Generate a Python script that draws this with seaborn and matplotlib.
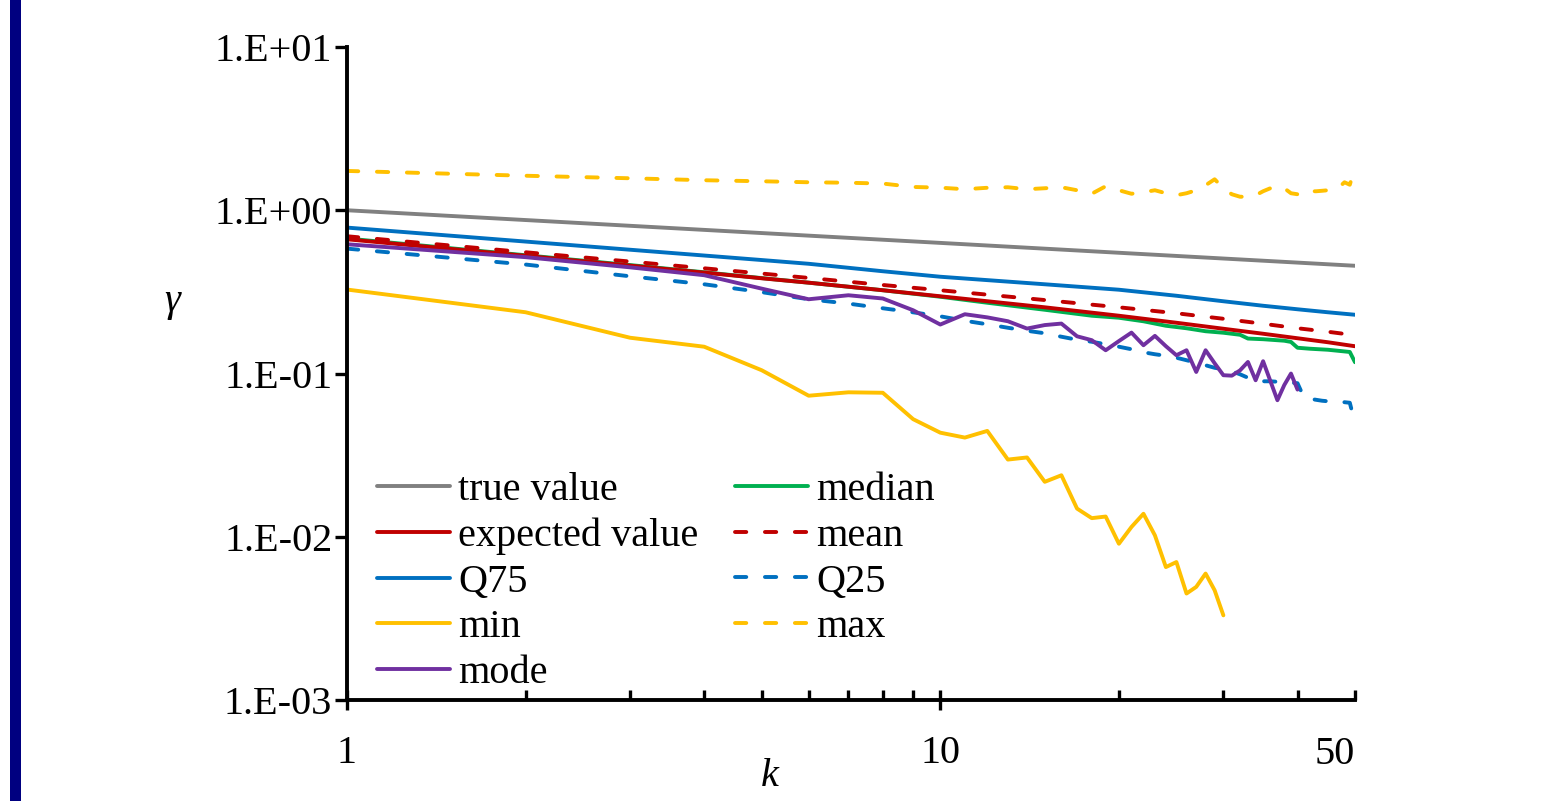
import matplotlib
matplotlib.use("Agg")
import matplotlib.pyplot as plt
import seaborn as sns
import numpy as np
from matplotlib.patches import Rectangle
from matplotlib.ticker import FixedLocator, FuncFormatter, NullLocator

# ---- data -------------------------------------------------------------
k_true = [1, 2, 5, 10, 20, 50]
true_value = [1.0, 0.871, 0.725, 0.631, 0.549, 0.457]

k_smooth = [1, 2, 3, 4, 5, 6, 8, 10, 15, 20, 25, 30, 35, 40, 45, 50]
expected_value = [0.664, 0.526, 0.458, 0.415, 0.383, 0.360, 0.3236, 0.2972,
                  0.2544, 0.2259, 0.2046, 0.1880, 0.1752, 0.1644, 0.1554, 0.1469]
mean_value = [0.693, 0.553, 0.485, 0.441, 0.4095, 0.385, 0.3485, 0.3236,
              0.2818, 0.2544, 0.2339, 0.2164, 0.2017, 0.1893, 0.1802, 0.1715]
q75 = [0.783, 0.643, 0.573, 0.528, 0.4955, 0.470, 0.423, 0.3915,
       0.352, 0.326, 0.2994, 0.277, 0.260, 0.2474, 0.2372, 0.229]

k_median = [1, 2, 3, 4, 5, 6, 8, 10, 12, 15, 18, 20, 22, 24, 26, 28, 30, 32,
            33, 35, 38, 39, 40, 42, 45, 49, 50]
median = [0.671, 0.530, 0.4615, 0.417, 0.384, 0.360, 0.3236, 0.2952, 0.2713,
          0.2457, 0.2259, 0.2196, 0.2089, 0.1961, 0.1893, 0.1815, 0.1777,
          0.1727, 0.1637, 0.1622, 0.1588, 0.1561, 0.1438, 0.1418, 0.1398,
          0.1355, 0.1172]

k_all = list(range(1, 51))
q25 = [0.582, 0.465, 0.394, 0.352, 0.315, 0.285, 0.268, 0.251, 0.237, 0.224,
       0.2104, 0.2002, 0.1906, 0.1827, 0.1764, 0.168, 0.161, 0.1565, 0.1511, 0.1459,
       0.1408, 0.1349, 0.1312, 0.1284, 0.1249, 0.1206, 0.1164, 0.1123, 0.1084, 0.1062,
       0.1032, 0.0989, 0.0942, 0.0903, 0.0896, 0.0896, 0.0890, 0.0884, 0.0878, 0.0872,
       0.0715, 0.0700, 0.0690, 0.0681, 0.0676, 0.0671, 0.0667, 0.0667, 0.0662, 0.0496]
max_value = [1.741, 1.627, 1.570, 1.527, 1.505, 1.484, 1.474, 1.457, 1.389, 1.375,
             1.345, 1.373, 1.383, 1.345, 1.364, 1.383, 1.326, 1.262, 1.403, 1.326,
             1.262, 1.289, 1.326, 1.271, 1.236, 1.271, 1.326, 1.423, 1.548, 1.364,
             1.253, 1.210, 1.210, 1.236, 1.307, 1.364, 1.413, 1.364, 1.271, 1.253,
             1.326, 1.307, 1.307, 1.316, 1.326, 1.326, 1.383, 1.484, 1.433, 1.834]

k_min = list(range(1, 31))
min_value = [0.3268, 0.2372, 0.1656, 0.1459, 0.1047, 0.0731, 0.0767, 0.0762, 0.0525, 0.0434,
             0.0405, 0.0445, 0.0297, 0.0306, 0.0217, 0.0238, 0.01488, 0.0130, 0.0133, 0.00906,
             0.01148, 0.01383, 0.0102, 0.00652, 0.0070, 0.00449, 0.00493, 0.00595, 0.0047, 0.0033]

k_mode = list(range(1, 41))
mode_value = [0.619, 0.516, 0.447, 0.40, 0.331, 0.285, 0.3015, 0.288, 0.244, 0.1995,
              0.2307, 0.2207, 0.209, 0.1885, 0.198, 0.2022, 0.169, 0.160, 0.1388, 0.158,
              0.178, 0.149, 0.170, 0.147, 0.1294, 0.1388, 0.1022, 0.1388, 0.1155, 0.0976,
              0.097, 0.1045, 0.1177, 0.0909, 0.1189, 0.090, 0.0686, 0.085, 0.0999, 0.0797]

x_tick_labels = {1: "1", 10: "10", 50: "50"}

# ---- style ------------------------------------------------------------
GRAY, RED, BLUE = "#808080", "#C00000", "#0070C0"
YELLOW, GREEN, PURPLE = "#FFC000", "#00B050", "#7030A0"
LW = 2.8
DASH = (0, (2.9, 4.8))
FS = 29

sns.set_theme(style="white")
plt.rcParams["font.family"] = ["Liberation Serif", "DejaVu Serif"]
plt.rcParams.update({"text.color": "black", "axes.labelcolor": "black",
                     "xtick.color": "black", "ytick.color": "black"})

fig = plt.figure(figsize=(15.61, 8.01), dpi=100)
ax = fig.add_axes([347 / 1561, 1 - 700 / 801, (1355 - 347) / 1561, (700 - 47) / 801])
ax.set_xscale("log")
ax.set_yscale("log")

series = [
    ("true value", k_true, true_value, GRAY, "-"),
    ("median", k_median, median, GREEN, "-"),
    ("expected value", k_smooth, expected_value, RED, "-"),
    ("mean", k_smooth, mean_value, RED, DASH),
    ("Q75", k_smooth, q75, BLUE, "-"),
    ("Q25", k_all, q25, BLUE, DASH),
    ("min", k_min, min_value, YELLOW, "-"),
    ("max", k_all, max_value, YELLOW, DASH),
    ("mode", k_mode, mode_value, PURPLE, "-"),
]

handles = {}
for name, ks, vals, color, ls in series:
    sns.lineplot(x=ks, y=vals, ax=ax, color=color, linestyle=ls, linewidth=LW,
                 estimator=None, sort=False, legend=False,
                 solid_joinstyle="round", solid_capstyle="round",
                 dash_capstyle="round", dash_joinstyle="round")
    handles[name] = ax.lines[-1]

ax.set_xlim(1, 50)
ax.set_ylim(1e-3, 10)

# axes frame
for side in ("top", "right"):
    ax.spines[side].set_visible(False)
for side in ("left", "bottom"):
    ax.spines[side].set_linewidth(2.8)
    ax.spines[side].set_color("black")
ax.grid(False)

# y axis
ax.yaxis.set_major_locator(FixedLocator([1e-3, 1e-2, 1e-1, 1e0, 1e1]))
ax.yaxis.set_minor_locator(NullLocator())
ax.yaxis.set_major_formatter(FuncFormatter(lambda v, p: "1.E%+03d" % round(np.log10(v))))
ax.tick_params(axis="y", which="major", direction="out", length=8.6, width=2.4,
               pad=2, labelsize=FS, color="black", labelcolor="black", left=True)

# x axis
ax.xaxis.set_major_locator(FixedLocator([1, 10]))
ax.xaxis.set_minor_locator(FixedLocator([2, 3, 4, 5, 6, 7, 8, 9, 20, 30, 40, 50]))
ax.xaxis.set_major_formatter(FuncFormatter(lambda v, p: x_tick_labels.get(int(round(v)), "")))
ax.xaxis.set_minor_formatter(FuncFormatter(lambda v, p: x_tick_labels.get(int(round(v)), "")))
ax.tick_params(axis="x", which="major", direction="inout", length=15, width=2.4,
               pad=18, labelsize=FS, color="black", labelcolor="black", bottom=True)
ax.tick_params(axis="x", which="minor", direction="in", length=7.5, width=2.4,
               pad=25.6, labelsize=FS, color="black", labelcolor="black", bottom=True)
for lbl in ax.xaxis.get_minorticklabels():
    lbl.set_horizontalalignment("right")

# axis titles
ax.set_xlabel("k", fontsize=FS, fontstyle="italic", color="black")
ax.xaxis.label.set_verticalalignment("center")
ax.xaxis.set_label_coords((770 - 347) / 1008, (700 - 777) / 653)
ax.set_ylabel("γ", fontsize=FS, fontstyle="italic", rotation=0,
              ha="center", va="center", color="black")
ax.yaxis.set_label_coords((172 - 347) / 1008, (700 - 302) / 653)

# legend in two columns
col1 = ["true value", "expected value", "Q75", "min", "mode"]
col2 = ["median", "mean", "Q25", "max"]
leg_kw = dict(loc="upper left", frameon=False, borderpad=0, borderaxespad=0,
              handlelength=1.81, handletextpad=0.2, labelspacing=0.21, fontsize=FS,
              labelcolor="black")
leg1 = ax.legend([handles[n] for n in col1], col1,
                 bbox_to_anchor=((377 - 347) / 1008, (700 - 472) / 653), **leg_kw)
ax.add_artist(leg1)
ax.legend([handles[n] for n in col2], col2,
          bbox_to_anchor=((735 - 347) / 1008, (700 - 472) / 653), **leg_kw)

# navy bar at the left edge
fig.patches.append(Rectangle((9.5 / 1561, 0), 11 / 1561, 1, transform=fig.transFigure,
                             facecolor="#000080", edgecolor="none"))

fig.savefig("out.png", dpi=100)
